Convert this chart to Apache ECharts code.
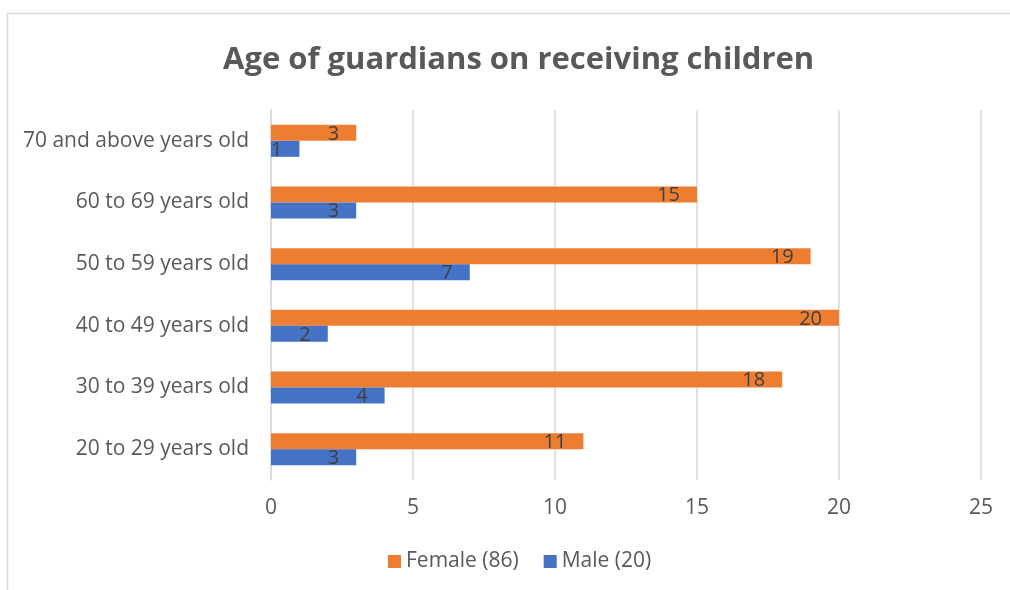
<!DOCTYPE html>
<html><head><meta charset="utf-8">
<script src="https://cdn.jsdelivr.net/npm/echarts@6/dist/echarts.min.js"></script>
<style>html,body{margin:0;padding:0;background:#fff}#c{width:1010px;height:590px}</style>
</head><body><div id="c"></div>
<script>
const categories = ['20 to 29 years old','30 to 39 years old','40 to 49 years old','50 to 59 years old','60 to 69 years old','70 and above years old'];
const female = [11, 18, 20, 19, 15, 3];
const male = [3, 4, 2, 7, 3, 1];
const seriesNames = ['Female (86)', 'Male (20)'];
const titleText = 'Age of guardians on receiving children';

const FONT = '"Open Sans", sans-serif';
const chart = echarts.init(document.getElementById('c'), null, {renderer:'canvas'});
const labelCfg = {show:true, position:'insideRight', distance:17, offset:[0,1], color:'#404040', fontSize:20, fontFamily:FONT};
chart.setOption({
  animation:false,
  graphic:[{type:'rect', shape:{x:7.5,y:13.5,width:1020,height:600}, style:{fill:'none', stroke:'#d9d9d9', lineWidth:1.5}}],
  title:{text:titleText, left:218, top:40, textStyle:{fontFamily:FONT, fontSize:31, fontWeight:'bold', color:'#595959'}},
  legend:{data:seriesNames, top:546, left:383, itemWidth:13, itemHeight:13, itemGap:25, icon:'rect',
    textStyle:{fontFamily:FONT, fontSize:21, color:'#595959'}},
  grid:{left:271, right:29, top:110, bottom:110, containLabel:false},
  xAxis:{type:'value', min:0, max:25, interval:5,
    axisLine:{show:false}, axisTick:{show:false},
    splitLine:{lineStyle:{color:'#d9d9d9', width:1.5}},
    axisLabel:{fontFamily:FONT, fontSize:21, color:'#595959', margin:18}},
  yAxis:{type:'category', data:categories,
    axisLine:{show:true, lineStyle:{color:'#d9d9d9', width:1.5}}, axisTick:{show:false},
    axisLabel:{fontFamily:FONT, fontSize:21, color:'#595959', margin:22}},
  series:[
    {name:seriesNames[0], type:'bar', data:female, barWidth:16, barGap:'0%', itemStyle:{color:'#ED7D31'}, label:labelCfg},
    {name:seriesNames[1], type:'bar', data:male, barWidth:16, barGap:'0%', itemStyle:{color:'#4472C4'}, label:labelCfg}
  ]
});
</script></body></html>
